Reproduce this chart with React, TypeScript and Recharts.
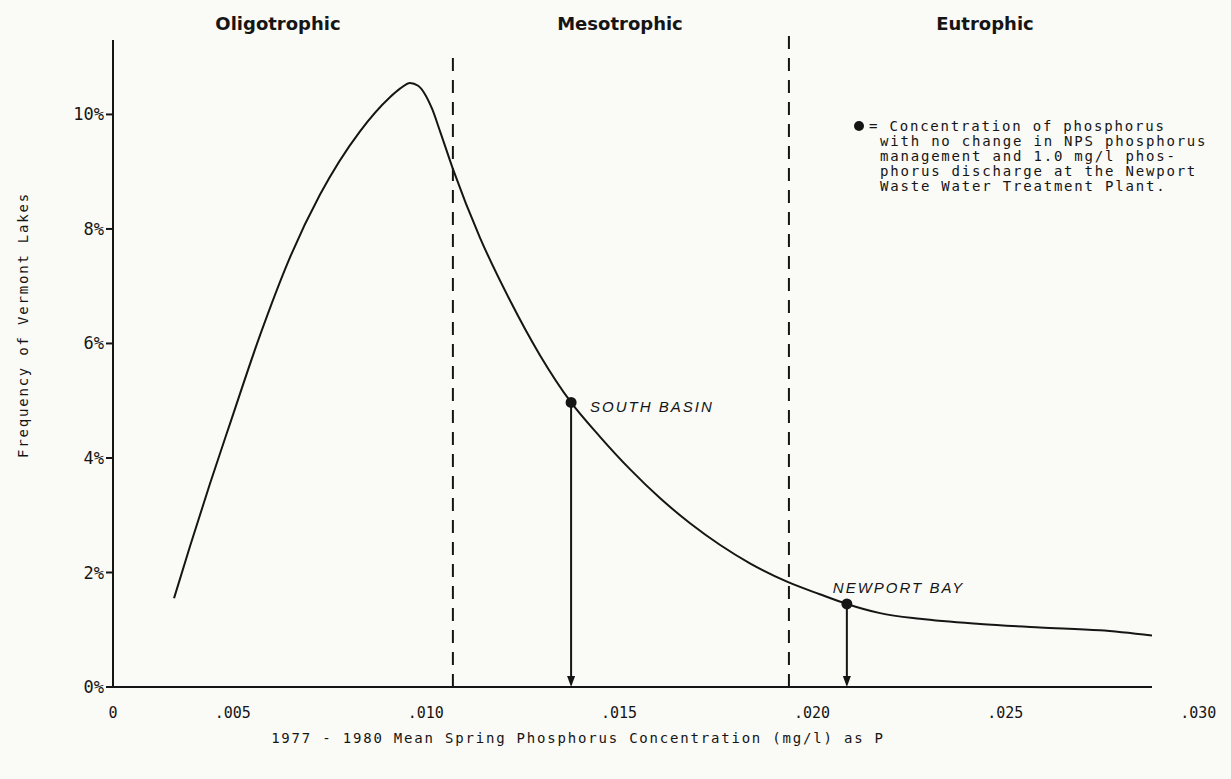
import { ComposedChart, Line, Scatter, XAxis, YAxis, ReferenceLine, Customized } from 'recharts';

// curve (mean spring P, mg/l -> % of lakes)
const curveX = [
  0.00348, 0.00389, 0.00441, 0.00493, 0.00571, 0.00648, 0.00726, 0.00829, 0.00907, 0.00933,
  0.00959, 0.0098, 0.00998, 0.01016, 0.01037, 0.0107, 0.0114, 0.01218, 0.01295, 0.01376,
  0.01451, 0.01529, 0.01606, 0.01684, 0.01762, 0.01839, 0.01935, 0.0202, 0.0209, 0.02176,
  0.02279, 0.02435, 0.0259, 0.02745, 0.0288,
];
const curveY = [
  1.55, 2.45, 3.55, 4.6, 6.15, 7.5, 8.6, 9.7, 10.3, 10.45,
  10.55, 10.5, 10.35, 10.1, 9.7, 9.05, 7.85, 6.75, 5.8, 4.97,
  4.37, 3.8, 3.3, 2.86, 2.48, 2.16, 1.84, 1.62, 1.45, 1.29,
  1.19, 1.1, 1.04, 0.99, 0.9,
];

const siteNames = ['SOUTH BASIN', 'NEWPORT BAY'];
const siteX = [0.01376, 0.0209];
const siteY = [4.97, 1.45];

const dividerX = [0.0107, 0.0194];
const dividerTop = [11.0, 11.4];

const zoneNames = ['Oligotrophic', 'Mesotrophic', 'Eutrophic'];

const xTicks = [0.0019, 0.005, 0.01, 0.015, 0.02, 0.025, 0.03];
const xTickLabels = ['0', '.005', '.010', '.015', '.020', '.025', '.030'];
const yTicks = [0, 2, 4, 6, 8, 10];

const noteLines = [
  '= Concentration of phosphorus',
  'with no change in NPS phosphorus',
  'management and 1.0 mg/l phos-',
  'phorus discharge at the Newport',
  'Waste Water Treatment Plant.',
];

const MONO = '"DejaVu Sans Mono", monospace';
const INK = '#151515';

const curve = curveX.map((x, i) => ({ x, y: curveY[i] }));
const sites = siteX.map((x, i) => ({ x, y: siteY[i], name: siteNames[i] }));

function Arrow(props: any) {
  const { x1, y1, x2, y2 } = props;
  return (
    <g>
      <line x1={x1} y1={y1} x2={x2} y2={y2 - 8} stroke={INK} strokeWidth={2} />
      <path d={`M${x2 - 4},${y2 - 11} L${x2 + 4},${y2 - 11} L${x2},${y2} Z`} fill={INK} />
    </g>
  );
}

function SiteDot(props: any) {
  const { cx, cy, payload } = props;
  const south = payload.name === 'SOUTH BASIN';
  return (
    <g>
      <circle cx={cx} cy={cy} r={5.5} fill={INK} />
      <text
        x={south ? cx + 19 : cx - 14}
        y={south ? cy + 10 : cy - 11}
        fontFamily='"Liberation Sans", Arial, sans-serif'
        fontStyle="italic"
        fontSize={15}
        letterSpacing={2}
        fill={INK}
      >
        {payload.name}
      </text>
    </g>
  );
}

function Decorations() {
  return (
    <g>
      {zoneNames.map((z, i) => (
        <text
          key={z}
          x={[278, 620, 985][i]}
          y={30}
          textAnchor="middle"
          fontFamily='"DejaVu Sans", sans-serif'
          fontWeight="bold"
          fontSize={18}
          fill={INK}
        >
          {z}
        </text>
      ))}
      <circle cx={859} cy={126} r={5} fill={INK} />
      {noteLines.map((l, i) => (
        <text
          key={i}
          x={i === 0 ? 869 : 880}
          y={131 + i * 15}
          fontFamily={MONO}
          fontSize={14}
          letterSpacing={1.8}
          fill={INK}
        >
          {l}
        </text>
      ))}
      <text
        x={28}
        y={325}
        transform="rotate(-90 28 325)"
        textAnchor="middle"
        fontFamily={MONO}
        fontSize={14}
        letterSpacing={1.8}
        fill={INK}
      >
        Frequency of Vermont Lakes
      </text>
      <text x={578} y={743} textAnchor="middle" fontFamily={MONO} fontSize={14} letterSpacing={1.8} fill={INK}>
        1977 - 1980 Mean Spring Phosphorus Concentration (mg/l) as P
      </text>
    </g>
  );
}

export default function App() {
  return (
    <div style={{ position: 'absolute', left: 0, top: 0, width: 1231, height: 779, background: '#fafaf6' }}>
      <ComposedChart width={1231} height={779} margin={{ top: 40, right: 79, bottom: 42, left: 53 }}>
        <XAxis
          dataKey="x"
          type="number"
          domain={[0.0019, 0.0288]}
          ticks={xTicks}
          interval={0}
          allowDataOverflow
          tickFormatter={(v: number) => xTickLabels[xTicks.indexOf(v)] ?? ''}
          tickLine={false}
          tickMargin={14}
          axisLine={{ stroke: INK, strokeWidth: 2 }}
          tick={{ fontSize: 15, fontFamily: MONO, fill: INK }}
          height={50}
        />
        <YAxis
          type="number"
          domain={[0, 11.3]}
          ticks={yTicks}
          interval={0}
          tickFormatter={(v: number) => `${v}%`}
          tickSize={7}
          tickMargin={2}
          axisLine={{ stroke: INK, strokeWidth: 2 }}
          tickLine={{ stroke: INK, strokeWidth: 2 }}
          tick={{ fontSize: 17, fontFamily: MONO, fill: INK }}
          width={60}
        />
        {dividerX.map((x, i) => (
          <ReferenceLine
            key={x}
            segment={[{ x, y: 0 }, { x, y: dividerTop[i] }]}
            ifOverflow="visible"
            stroke={INK}
            strokeWidth={2}
            strokeDasharray="13 9"
          />
        ))}
        {sites.map((s) => (
          <ReferenceLine key={s.name} segment={[{ x: s.x, y: s.y }, { x: s.x, y: 0 }]} shape={Arrow} />
        ))}
        <Line
          data={curve}
          dataKey="y"
          type="monotone"
          stroke={INK}
          strokeWidth={2}
          dot={false}
          isAnimationActive={false}
        />
        <Scatter data={sites} dataKey="y" shape={SiteDot} isAnimationActive={false} />
        <Customized component={Decorations} />
      </ComposedChart>
    </div>
  );
}
